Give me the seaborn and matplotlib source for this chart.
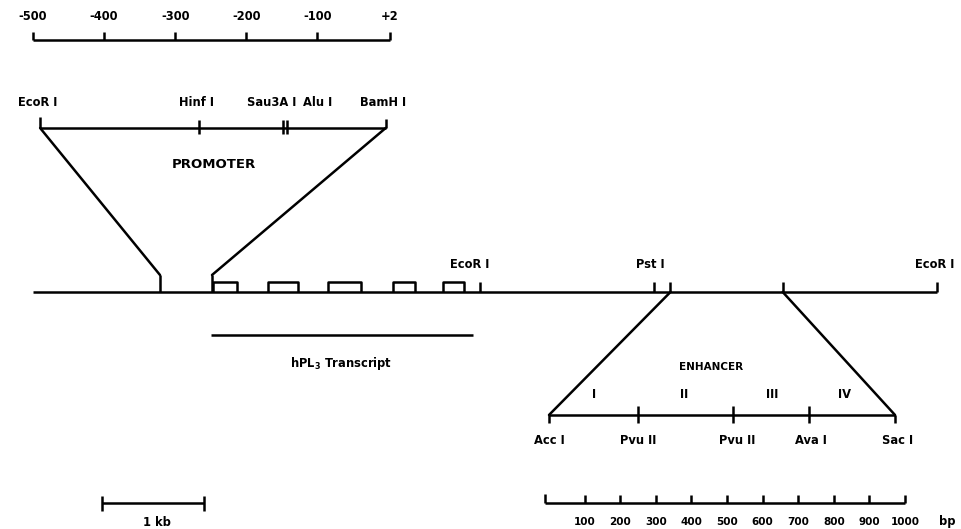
import numpy as np
import pandas as pd
import matplotlib
matplotlib.use("Agg")
import matplotlib.pyplot as plt
import seaborn as sns
from matplotlib.patches import ConnectionPatch

# ---------------- data ----------------
# promoter ruler / sites (bp relative to cap site)
prom_scale_ticks = [-500, -400, -300, -200, -100, 2]
prom_scale_labels = ["-500", "-400", "-300", "-200", "-100", "+2"]
prom_sites = ["EcoR I", "Hinf I", "Sau3A I", "Alu I", "BamH I"]
prom_site_pos = [-490, -267, -148, -143, -4]

# main genomic map (kb from left end)
main_extent = [0.0, 8.86]
exon_starts = [1.765, 2.30, 2.89, 3.53, 4.02]
exon_ends = [2.00, 2.60, 3.22, 3.75, 4.23]
main_sites = ["EcoR I", "Pst I", "EcoR I"]
main_site_pos = [4.38, 6.09, 8.86]
promoter_span = [1.245, 1.755]
enhancer_span = [6.25, 7.35]
transcript_span = [1.75, 4.31]
kb_bar = [0.676, 1.676]

# enhancer fragment (bp)
enh_sites = ["Acc I", "Pvu II", "Pvu II", "Ava I", "Sac I"]
enh_site_pos = [0, 250, 517, 730, 972]
enh_regions = ["I", "II", "III", "IV"]
enh_region_pos = [126, 379, 626, 831]
bp_ticks = [100, 200, 300, 400, 500, 600, 700, 800, 900, 1000]
bp_ruler_start = -10

# ---------------- style ----------------
sns.set_theme(style="white")
plt.rcParams['font.family'] = ['DejaVu Sans']
FS = 8.3
LW = 1.8
TXT = dict(ha='center', va='center', fontsize=FS, fontweight='heavy',
           color='black')

fig = plt.figure(figsize=(9.62, 5.29), dpi=100)
fig.patch.set_facecolor('white')


def overlay(x0px, px_per_unit, origin):
    ax = fig.add_axes([0, 0, 1, 1])
    left = origin - x0px / px_per_unit
    ax.patch.set_alpha(0)
    return ax, (left, left + 962 / px_per_unit)


ax_prom, lim_prom = overlay(33, 357 / 502, -500)
ax_main, lim_main = overlay(33, 102, 0)
ax_enh, lim_enh = overlay(549, 0.356, 0)


def polylines(ax, lines, lw=LW):
    rows = []
    for i, pts in enumerate(lines):
        for j, (x, y) in enumerate(pts):
            rows.append(dict(seg=i, order=j, x=x, y=y))
    df = pd.DataFrame(rows)
    sns.lineplot(data=df, x='x', y='y', units='seg', estimator=None,
                 sort=False, color='black', lw=lw, ax=ax, legend=False,
                 solid_capstyle='butt')


# ----- promoter ruler (top) -----
Y_RULER = 40
lines = [[(prom_scale_ticks[0], Y_RULER), (prom_scale_ticks[-1], Y_RULER)]]
for t in prom_scale_ticks:
    lines.append([(t, Y_RULER), (t, 32)])
polylines(ax_prom, lines)
for t, lab in zip(prom_scale_ticks, prom_scale_labels):
    ax_prom.text(t, 17, lab, **TXT)

# ----- promoter fragment -----
Y_PROM = 128
lines = [[(prom_site_pos[0], Y_PROM), (prom_site_pos[-1], Y_PROM)],
         [(prom_site_pos[0], Y_PROM), (prom_site_pos[0], 117)],
         [(prom_site_pos[-1], Y_PROM), (prom_site_pos[-1], 119)]]
for p in prom_site_pos[1:-1]:
    lines.append([(p, 120), (p, 134)])
polylines(ax_prom, lines)
prom_label_x = [-493, -270, -165, -100, -8]
for p, lab in zip(prom_label_x, prom_sites):
    ax_prom.text(p, 103, lab, **TXT)
ax_prom.text(-245, 165, "PROMOTER", **{**TXT, 'fontsize': 9.5})

# ----- main map -----
Y_MAIN = 292
lines = [[(main_extent[0], Y_MAIN), (main_extent[1], Y_MAIN)]]
for s, e in zip(exon_starts, exon_ends):
    lines.append([(s, Y_MAIN), (s, 282), (e, 282), (e, Y_MAIN)])
for p in main_site_pos:
    lines.append([(p, Y_MAIN), (p, 282)])
for p in enhancer_span:
    lines.append([(p, Y_MAIN), (p, 282)])
for p in promoter_span:
    lines.append([(p, Y_MAIN), (p, 275)])
lines.append([(transcript_span[0], 335), (transcript_span[1], 335)])
lines.append([(kb_bar[0], 503), (kb_bar[1], 503)])
for p in kb_bar:
    lines.append([(p, 496), (p, 511)])
polylines(ax_main, lines)
main_label_x = [4.28, 6.05, 8.84]
for p, lab in zip(main_label_x, main_sites):
    ax_main.text(p, 265, lab, **TXT)
ax_main.text(3.02, 364, r"hPL$_\mathbf{3}$ Transcript", **TXT)
ax_main.text(1.215, 522, "1 kb", **TXT)

# ----- enhancer fragment -----
Y_ENH = 415
lines = [[(enh_site_pos[0], Y_ENH), (enh_site_pos[-1], Y_ENH)],
         [(enh_site_pos[0], Y_ENH), (enh_site_pos[0], 423)],
         [(enh_site_pos[-1], Y_ENH), (enh_site_pos[-1], 423)]]
for p in enh_site_pos[1:-1]:
    lines.append([(p, 406), (p, 423)])
polylines(ax_enh, lines)
enh_label_x = [0, 250, 530, 735, 978]
for p, lab in zip(enh_label_x, enh_sites):
    ax_enh.text(p, 440, lab, **TXT)
for p, lab in zip(enh_region_pos, enh_regions):
    ax_enh.text(p, 394, lab, **TXT)
ax_enh.text(455, 367, "ENHANCER", **{**TXT, 'fontsize': 7.5})

# bp ruler
Y_BP = 503
lines = [[(bp_ruler_start, Y_BP), (bp_ticks[-1], Y_BP)],
         [(bp_ruler_start, Y_BP), (bp_ruler_start, 494)]]
for t in bp_ticks:
    lines.append([(t, Y_BP), (t, 495)])
polylines(ax_enh, lines)
for t in bp_ticks:
    ax_enh.text(t, 522, str(t), **{**TXT, 'fontsize': 7.5})
ax_enh.text(1120, 522, "bp", **TXT)

# ----- axes limits -----
for ax, lim in [(ax_prom, lim_prom), (ax_main, lim_main), (ax_enh, lim_enh)]:
    ax.set_xlim(*lim)
    ax.set_ylim(529, 0)
    ax.axis('off')

# ----- connecting (zoom) lines -----
conns = [(ax_prom, (prom_site_pos[0], Y_PROM), ax_main, (promoter_span[0], 275)),
         (ax_prom, (prom_site_pos[-1], Y_PROM), ax_main, (promoter_span[1], 275)),
         (ax_main, (enhancer_span[0], Y_MAIN), ax_enh, (enh_site_pos[0], Y_ENH)),
         (ax_main, (enhancer_span[1], Y_MAIN), ax_enh, (enh_site_pos[-1], Y_ENH))]
for axA, pA, axB, pB in conns:
    cp = ConnectionPatch(xyA=pA, coordsA=axA.transData, xyB=pB,
                         coordsB=axB.transData, color='black', lw=LW)
    fig.add_artist(cp)

fig.savefig("out.png", dpi=100, facecolor='white')
